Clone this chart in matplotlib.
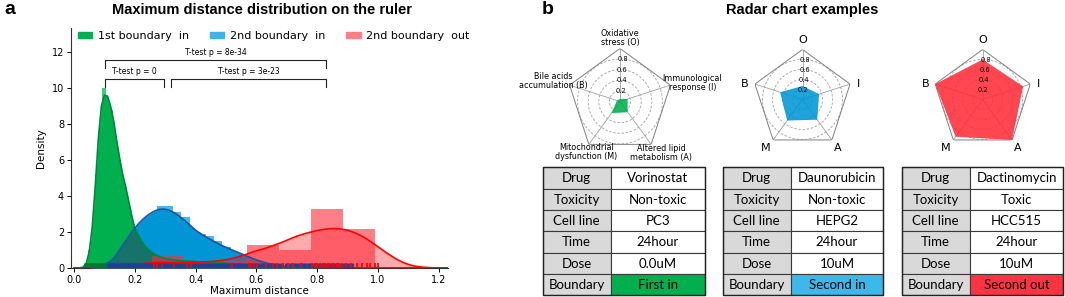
import numpy as np
import matplotlib
matplotlib.use('Agg')
from matplotlib import pyplot as plt
from matplotlib.patches import Rectangle, Patch

W, H = 1065, 297

# ---------------- panel a: distributions ----------------
kde_x = np.round(np.arange(0, 1.251, 0.01), 2)

green_kde = [0, 0, 0.01, 0.05, 0.25, 0.9, 2.3, 4.6, 7.2, 9.0,
             9.6, 9.55, 9.0, 8.2, 7.1, 6.1, 5.2, 4.5, 3.7, 2.9,
             2.2, 1.85, 1.55, 1.3, 1.1, 0.95, 0.82, 0.72, 0.64, 0.58,
             0.53, 0.5, 0.47, 0.45, 0.42, 0.41, 0.4, 0.39, 0.38, 0.37,
             0.36, 0.35, 0.34, 0.33, 0.32, 0.31, 0.3, 0.29, 0.28, 0.27,
             0.26, 0.25, 0.24, 0.22, 0.21, 0.2, 0.19, 0.18, 0.17, 0.16,
             0.15, 0.14, 0.12, 0.11, 0.1, 0.09, 0.08, 0.07, 0.06, 0.05,
             0.05, 0.04, 0.03, 0.03, 0.02, 0.02, 0.01, 0.01, 0.01, 0] + [0] * 46

blue_kde = [0, 0, 0, 0, 0, 0, 0.01, 0.03, 0.07, 0.13,
            0.2, 0.28, 0.38, 0.52, 0.75, 1.0, 1.25, 1.5, 1.75, 2.0,
            2.2, 2.42, 2.6, 2.76, 2.9, 3.02, 3.12, 3.2, 3.25, 3.27,
            3.26, 3.22, 3.15, 3.06, 2.95, 2.83, 2.7, 2.55, 2.4, 2.25,
            2.1, 1.98, 1.87, 1.76, 1.66, 1.57, 1.48, 1.39, 1.3, 1.22,
            1.15, 1.07, 1.0, 0.93, 0.86, 0.79, 0.72, 0.65, 0.58, 0.51,
            0.45, 0.39, 0.34, 0.29, 0.25, 0.21, 0.18, 0.15, 0.12, 0.1,
            0.08, 0.07, 0.06, 0.05, 0.04, 0.035, 0.03, 0.025, 0.02, 0.02,
            0.015, 0.015, 0.01, 0.01, 0.01, 0.01, 0.005, 0.005, 0.005, 0] + [0] * 36

red_kde = [0, 0, 0, 0.01, 0.01, 0.01, 0.02, 0.02, 0.03, 0.03,
           0.04, 0.05, 0.06, 0.07, 0.08, 0.09, 0.11, 0.13, 0.15, 0.17,
           0.19, 0.21, 0.23, 0.25, 0.27, 0.28, 0.29, 0.3, 0.3, 0.3,
           0.3, 0.3, 0.3, 0.3, 0.3, 0.3, 0.3, 0.3, 0.31, 0.31,
           0.32, 0.32, 0.33, 0.34, 0.35, 0.36, 0.37, 0.39, 0.41, 0.43,
           0.46, 0.49, 0.53, 0.57, 0.62, 0.67, 0.72, 0.78, 0.84, 0.9,
           0.95, 1.0, 1.05, 1.1, 1.16, 1.22, 1.28, 1.34, 1.4, 1.47,
           1.54, 1.61, 1.68, 1.75, 1.81, 1.86, 1.91, 1.96, 2.0, 2.04,
           2.08, 2.11, 2.14, 2.16, 2.18, 2.19, 2.19, 2.18, 2.16, 2.13,
           2.09, 2.04, 1.98, 1.91, 1.83, 1.74, 1.64, 1.53, 1.42, 1.3,
           1.18, 1.06, 0.94, 0.82, 0.71, 0.6, 0.5, 0.41, 0.33, 0.26,
           0.2, 0.15, 0.11, 0.08, 0.06, 0.04, 0.03, 0.02, 0.01, 0.01,
           0.005, 0, 0, 0, 0, 0]

# histograms: first bin edge, bin width, heights
green_bin0, green_binw = 0.035, 0.0115
green_hist = [0.3, 1.0, 2.8, 5.2, 7.8, 10.0, 9.4, 8.8, 7.6, 6.0, 5.4, 4.3, 3.6, 2.6, 2.2, 1.6,
              1.2, 0.9, 0.8, 0.6, 0.55, 0.5, 0.4, 0.35, 0.3, 0.3, 0.25, 0.2, 0.2, 0.15, 0.1, 0.1]
blue_bin0, blue_binw = 0.11, 0.027
blue_hist = [0.3, 0.65, 1.3, 1.9, 2.1, 2.75, 3.45, 3.45, 3.1, 2.85, 2.0, 1.9, 1.75, 1.5, 1.15,
             0.9, 0.7, 0.55, 0.4, 0.3, 0.2, 0.15, 0.1, 0.08, 0.06, 0.05, 0.04, 0.03, 0.02, 0.02]
red_bin0, red_binw = 0.255, 0.105
red_hist = [0.67, 0.25, 0.4, 1.28, 1.0, 3.3, 2.15]

# rug values
green_rug = [0.036, 0.04, 0.044, 0.047, 0.051, 0.055, 0.058, 0.062, 0.065, 0.069, 0.072,
             0.076, 0.079, 0.083, 0.086, 0.09, 0.093, 0.097, 0.1, 0.104, 0.107]
blue_rug = [0.112, 0.118, 0.121, 0.127, 0.133, 0.138, 0.142, 0.149, 0.153, 0.158, 0.164,
            0.169, 0.173, 0.179, 0.184, 0.188, 0.193, 0.199, 0.203, 0.208, 0.214, 0.219,
            0.223, 0.228, 0.233, 0.239, 0.243, 0.248, 0.252, 0.257, 0.262, 0.267, 0.271,
            0.276, 0.281, 0.285, 0.29, 0.294, 0.299, 0.303, 0.308, 0.312, 0.317, 0.322,
            0.326, 0.331, 0.336, 0.341, 0.346, 0.351, 0.356, 0.361, 0.366, 0.372, 0.377,
            0.383, 0.389, 0.394, 0.4, 0.406, 0.412, 0.418, 0.424, 0.43, 0.437, 0.443,
            0.449, 0.456, 0.462, 0.469, 0.476, 0.483, 0.49, 0.497, 0.504, 0.512, 0.519,
            0.527, 0.535, 0.542, 0.55, 0.559, 0.567, 0.575, 0.584, 0.593, 0.602, 0.611,
            0.62, 0.63, 0.64, 0.651, 0.662, 0.673, 0.685, 0.697, 0.71, 0.717, 0.724, 0.731,
            0.738, 0.745, 0.752, 0.76, 0.768, 0.776, 0.784, 0.792, 0.8, 0.809, 0.818, 0.827,
            0.836, 0.846, 0.856, 0.866, 0.877, 0.888, 0.898, 0.907, 0.915]
red_rug = [0.262, 0.272, 0.29, 0.33, 0.372, 0.384, 0.52, 0.574, 0.582, 0.592, 0.602, 0.632,
           0.655, 0.668, 0.688, 0.703, 0.72, 0.745, 0.782, 0.793, 0.8, 0.81, 0.818, 0.826,
           0.834, 0.84, 0.848, 0.856, 0.865, 0.872, 0.88, 0.893, 0.91, 0.932, 0.948, 0.962,
           0.975, 0.99, 1.0]

legend_labels = ['1st boundary  in', '2nd boundary  in', '2nd boundary  out']

# significance brackets: (x_left, x_right, y, label)
brackets = [(0.102, 0.829, 11.56, 'T-test p = 8e-34'),
            (0.102, 0.296, 10.5, 'T-test p = 0'),
            (0.319, 0.829, 10.5, 'T-test p = 3e-23')]

# ---------------- panel b: radar + tables ----------------
radar_full_labels = ['Oxidative\nstress (O)', 'Immunological\nresponse (I)',
                     'Altered lipid\nmetabolism (A)', 'Mitochondrial\ndysfunction (M)',
                     'Bile acids\naccumulation (B)']
radar_short_labels = ['O', 'I', 'A', 'M', 'B']
radar_rings = [0.2, 0.4, 0.6, 0.8]
vorinostat_scores = [0.05, 0.15, 0.25, 0.27, 0.06]
daunorubicin_scores = [0.27, 0.35, 0.5, 0.52, 0.47]
dactinomycin_scores = [0.8, 0.85, 1.0, 0.92, 1.0]

row_names = ['Drug', 'Toxicity', 'Cell line', 'Time', 'Dose', 'Boundary']
vorinostat_info = ['Vorinostat', 'Non-toxic', 'PC3', '24hour', '0.0uM', 'First in']
daunorubicin_info = ['Daunorubicin', 'Non-toxic', 'HEPG2', '24hour', '10uM', 'Second in']
dactinomycin_info = ['Dactinomycin', 'Toxic', 'HCC515', '24hour', '10uM', 'Second out']

GREEN, BLUE, RED = '#00b04f', '#0096d6', '#ff2d3a'


def px_rect(x0, y0, x1, y1):
    return [x0 / W, 1 - y1 / H, (x1 - x0) / W, (y1 - y0) / H]


fig = plt.figure(figsize=(W / 100, H / 100), dpi=100)

ax = fig.add_axes(px_rect(71, 28, 448, 268))
kx = kde_x
g = np.array(green_kde)
b = np.array(blue_kde)
r = np.array(red_kde)

for start, w, hts, col in [(green_bin0, green_binw, green_hist, '#3ccb7a'),
                           (blue_bin0, blue_binw, blue_hist, '#45b8ec')]:
    lefts = start + w * np.arange(len(hts))
    ax.bar(lefts, hts, width=w, align='edge', color=col, lw=0, zorder=1)

ax.fill_between(kx, 0, g, color=GREEN, lw=0, zorder=2)
ax.fill_between(kx, 0, b, color=BLUE, lw=0, zorder=3)
ax.fill_between(kx, 0, np.minimum(g, b), color='#17726a', lw=0, zorder=4)
ax.fill_between(kx, 0, r, color='#ff0000', alpha=0.33, lw=0, zorder=5)

lefts = red_bin0 + red_binw * np.arange(len(red_hist))
ax.bar(lefts, red_hist, width=red_binw, align='edge', color='#ff2a3a', alpha=0.6, lw=0, zorder=6)

ax.plot(kx, g, color='#00873c', lw=1.2, zorder=7)
ax.plot(kx, b, color='#1a55a5', lw=1.2, zorder=7)
ax.plot(kx, r, color='#ff0000', lw=1.2, zorder=7)

ax.vlines(green_rug, 0, 0.3, color='#00782f', lw=2.0, zorder=8)
ax.vlines(blue_rug, 0, 0.3, color='#1f3f9a', lw=2.0, zorder=8)
ax.vlines(red_rug, 0, 0.3, color='#ff0000', lw=1.3, zorder=9)

for x0, x1, y, lab in brackets:
    ax.plot([x0, x0, x1, x1], [y - 0.45, y, y, y - 0.45], color='#222222', lw=0.8, zorder=10)
    ax.text((x0 + x1) / 2, y + 0.15, lab, ha='center', va='bottom', fontsize=5.5, zorder=10)

ax.set_xlim(-0.01, 1.23)
ax.set_ylim(0, 13.33)
ax.set_xticks([0.0, 0.2, 0.4, 0.6, 0.8, 1.0, 1.2])
ax.set_yticks([0, 2, 4, 6, 8, 10, 12])
ax.tick_params(labelsize=7, length=3, width=0.7, pad=2)
for s in ['top', 'right']:
    ax.spines[s].set_visible(False)
for s in ['left', 'bottom']:
    ax.spines[s].set_linewidth(0.8)
    ax.spines[s].set_color('#333333')
ax.set_xlabel('Maximum distance', fontsize=7.5, labelpad=1)
ax.set_ylabel('Density', fontsize=7.5, labelpad=4)

handles = [Patch(color=GREEN), Patch(color='#3cb4e6'), Patch(color='#ff7f87')]
ax.legend(handles, legend_labels, loc='upper left', bbox_to_anchor=(-0.003, 1.02), ncol=3,
          frameon=False, fontsize=8, handlelength=1.3, handleheight=0.5,
          columnspacing=1.9, handletextpad=0.5, borderaxespad=0.3)

fig.text(4 / W, 1 - 10 / H, 'a', fontsize=14, fontweight='bold', family='Liberation Sans', va='center')
fig.text(262 / W, 1 - 10 / H, 'Maximum distance distribution on the ruler', fontsize=10.5,
         fontweight='bold', family='Liberation Sans', ha='center', va='center')
fig.text(542 / W, 1 - 10 / H, 'b', fontsize=14, fontweight='bold', family='Liberation Sans', va='center')
fig.text(802 / W, 1 - 10 / H, 'Radar chart examples', fontsize=10.5,
         fontweight='bold', family='Liberation Sans', ha='center', va='center')


def radar(cx, cy, R, values, color, labels, lab_size, lab_pos):
    pa = fig.add_axes(px_rect(cx - R, cy - R, cx + R, cy + R), projection='polar')
    pa.set_theta_zero_location('N')
    pa.set_theta_direction(-1)
    ang = np.deg2rad([0, 72, 144, 216, 288])
    pa.set_ylim(0, 1)
    pa.grid(False)
    pa.spines['polar'].set_visible(False)
    pa.set_facecolor('none')
    pa.set_yticks([])
    pa.set_xticks([])
    ring = np.linspace(0, 2 * np.pi, 200)
    for rr in radar_rings:
        pa.plot(ring, np.full(200, rr), ls=(0, (3, 2)), color='#a0a0a0', lw=0.6, zorder=1)
    for a in ang:
        pa.plot([a, a], [0, 1], color='#a0a0a0', lw=0.6, zorder=1)
    closed = np.append(ang, ang[0])
    pa.plot(closed, np.ones(6), color='#808080', lw=0.7, zorder=1)
    pa.fill(closed, list(values) + [values[0]], color=color, alpha=0.88, lw=0, zorder=2)
    for rr in radar_rings:
        pa.text(0.07, rr, f'{rr:.1f}', fontsize=4.8, ha='center', va='center', zorder=3)
    for lab, (deg, rad) in zip(labels, lab_pos):
        pa.text(np.deg2rad(deg), rad, lab, fontsize=lab_size, ha='center', va='center',
                linespacing=1.0, clip_on=False)


full_pos = [(0, 1.2), (76, 1.41), (141, 1.24), (214, 1.14), (287, 1.31)]
short_pos = [(0, 1.19), (74, 1.16), (144, 1.2), (217, 1.22), (285, 1.19)]
radar(620, 101.5, 53, vorinostat_scores, GREEN, radar_full_labels, 5.8, full_pos)
radar(802.5, 99.5, 50, daunorubicin_scores, BLUE, radar_short_labels, 8, short_pos)
radar(982.7, 99.5, 50, dactinomycin_scores, RED, radar_short_labels, 8, short_pos)

# tables on a pixel-space overlay
ov = fig.add_axes([0, 0, 1, 1])
ov.set_xlim(0, W)
ov.set_ylim(H, 0)
ov.axis('off')
ov.patch.set_visible(False)

tab_top, row_h, col1_w = 167.3, 21.3, 68
tables = [(542.7, 705, vorinostat_info, GREEN),
          (722.7, 883.3, daunorubicin_info, '#3cb8ea'),
          (901.7, 1063.3, dactinomycin_info, '#ff3342')]
for left, right, info, bcol in tables:
    for i, (name, val) in enumerate(zip(row_names, info)):
        y0 = tab_top + i * row_h
        ov.add_patch(Rectangle((left, y0), col1_w, row_h, fc='#d9d9d9', ec='#3a3a3a', lw=0.8))
        fc = bcol if i == len(row_names) - 1 else 'white'
        ov.add_patch(Rectangle((left + col1_w, y0), right - left - col1_w, row_h, fc=fc,
                               ec='#3a3a3a', lw=0.8))
        ov.text(left + col1_w / 2, y0 + row_h / 2 + 0.5, name, ha='center', va='center',
                fontsize=9.5, family='Lato')
        ov.text((left + col1_w + right) / 2, y0 + row_h / 2 + 0.5, val, ha='center', va='center',
                fontsize=9.5, family='Lato')
    ov.add_patch(Rectangle((left, tab_top), right - left, row_h * len(row_names), fc='none',
                           ec='#222222', lw=1.0))

fig.savefig('out.png', dpi=100)
